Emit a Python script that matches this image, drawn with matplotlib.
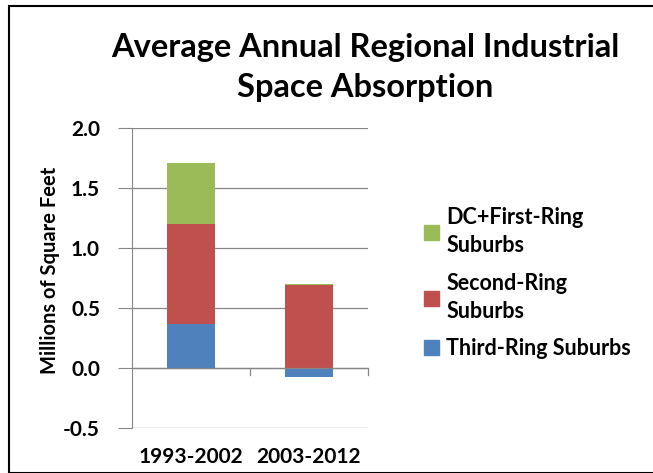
import matplotlib
matplotlib.use("Agg")
import matplotlib.pyplot as plt
from matplotlib.patches import Rectangle, Patch
import numpy as np

categories = ["1993-2002", "2003-2012"]
third_ring = [0.367, -0.075]
second_ring = [0.833, 0.688]
dc_first_ring = [0.508, 0.012]
series_names = ["DC+First-Ring\nSuburbs", "Second-Ring\nSuburbs", "Third-Ring Suburbs"]
colors = {"green": "#9BBB59", "red": "#C0504D", "blue": "#4F81BD"}
yticks = [-0.5, 0.0, 0.5, 1.0, 1.5, 2.0]

plt.rcParams['font.family'] = ['Lato', 'DejaVu Sans']

fig = plt.figure(figsize=(6.53, 4.73), dpi=100)
W, H = 653, 473
ax = fig.add_axes([132 / W, (H - 428) / H, (368 - 132) / W, (428 - 128) / H])

x = np.arange(len(categories))
bw = 0.4
third = np.array(third_ring)
second = np.array(second_ring)
first = np.array(dc_first_ring)
ax.bar(x, third, bw, color=colors["blue"], zorder=3)
ax.bar(x, second, bw, bottom=np.maximum(third, 0), color=colors["red"], zorder=3)
ax.bar(x, first, bw, bottom=np.maximum(third, 0) + second, color=colors["green"], zorder=3)

ax.set_xlim(-0.5, 1.5)
ax.set_ylim(-0.5, 2.0)
ax.set_yticks(yticks)
ax.set_yticklabels([f"{v:.1f}" for v in yticks], fontsize=15, fontweight='bold')
ax.set_xticks(x)
ax.set_xticklabels(categories, fontsize=15, fontweight='bold')
ax.tick_params(axis='x', length=0, pad=14)
ax.tick_params(axis='y', length=10, color='#868686', pad=13)
for ytk in yticks:
    ax.axhline(ytk, color='#868686', lw=0.9, zorder=1)
ax.axhline(0, color='#868686', lw=0.9, zorder=4)
for s in ['top', 'right', 'bottom']:
    ax.spines[s].set_visible(False)
ax.spines['left'].set_color('#868686')
for xt in [0.5, 1.5]:
    ax.plot([xt, xt], [0, -0.06], color='#868686', lw=0.9, zorder=4, clip_on=False)

ax.set_ylabel("Millions of Square Feet", fontsize=14.5, fontweight='bold')
ax.yaxis.set_label_coords((60 - 132) / 236, (428 - 270) / 300)

fig.text(365 / W, 1 - 48 / H, "Average Annual Regional Industrial", ha='center', va='center',
         fontsize=23.5, fontweight='bold')
fig.text(365 / W, 1 - 88 / H, "Space Absorption", ha='center', va='center',
         fontsize=23.5, fontweight='bold')

handles = [Patch(color=colors["green"]), Patch(color=colors["red"]), Patch(color=colors["blue"])]
leg = fig.legend(handles, series_names, loc='upper left', bbox_to_anchor=(413 / W, 1 - 196 / H),
                 frameon=False, handlelength=0.7, handleheight=0.7,
                 handletextpad=0.35, labelspacing=0.75, borderpad=0,
                 prop={'weight': 'bold', 'size': 15.5})
for t in leg.get_texts():
    t.set_linespacing(1.45)

fig.patches.append(Rectangle((9 / W, 0), 1, 1 - 6 / H, transform=fig.transFigure,
                             fill=False, edgecolor='black', lw=1.5, zorder=10))

fig.savefig("out.png", dpi=100)
